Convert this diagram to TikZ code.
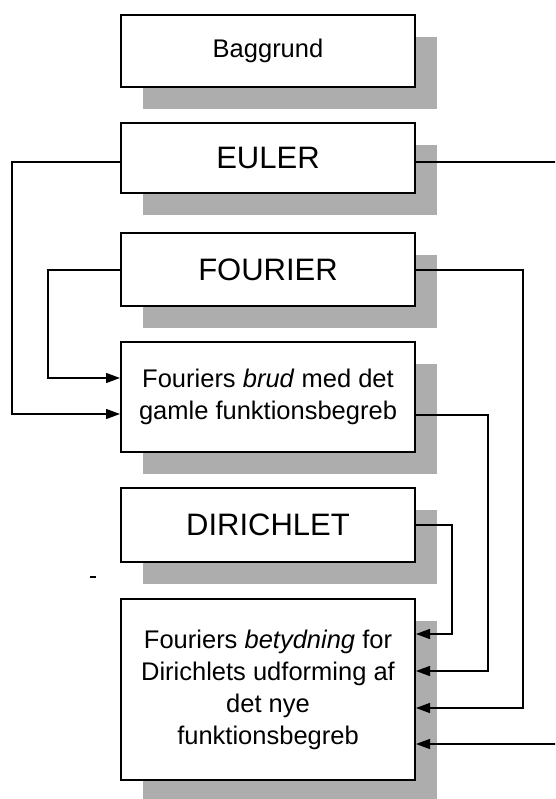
\documentclass[tikz,border=0pt]{standalone}
\usepackage{fontspec}
\setmainfont{Liberation Sans}
\usepackage{tikz}
\usetikzlibrary{arrows.meta,shadows}
\tikzset{
  box/.style={draw, line width=2pt, fill=white, align=center, inner sep=0pt, minimum width=294pt,
    drop shadow={shadow xshift=22pt, shadow yshift=-22pt, fill=black!32, opacity=1}},
  txt/.style={font=\fontsize{25.5}{32}\selectfont},
  ttl/.style={font=\fontsize{31}{36}\selectfont},
  arr/.style={-{Triangle[length=14pt,width=10pt]}, line width=1.3pt},
}

\begin{document}
\begin{tikzpicture}[x=1pt,y=-1pt]
  \clip (0,0) rectangle (555,799);
  \node[box, txt, minimum height=72pt] (bg) at (268,51) {Baggrund};
  \node[box, ttl, minimum height=70pt] (euler) at (268,158) {EULER};
  \node[box, ttl, minimum height=73pt] (fourier) at (268,269.5) {FOURIER};
  \node[box, txt, minimum height=110pt] (brud) at (268,397) {Fouriers \textit{brud} med det\\gamle funktionsbegreb};
  \node[box, ttl, minimum height=74pt] (dirichlet) at (268,525) {DIRICHLET};
  \node[box, txt, minimum height=181pt] (betyd) at (268,689.5) {Fouriers \textit{betydning} for\\Dirichlets udforming af\\det nye\\funktionsbegreb};
  % left side
  \draw[arr] (euler.west |- 0,162) -| (12,414) -- (brud.west |- 0,414);
  \draw[arr] (fourier.west |- 0,270) -| (48,378) -- (brud.west |- 0,378);
  % right side
  \draw[arr] (dirichlet.east |- 0,525) -| (452,634) -- (betyd.east |- 0,634);
  \draw[arr] (brud.east |- 0,415) -| (488,671) -- (betyd.east |- 0,671);
  \draw[arr] (fourier.east |- 0,270) -| (523,708) -- (betyd.east |- 0,708);
  \draw[arr] (euler.east |- 0,162) -| (575,744) -- (betyd.east |- 0,744);
  \draw[line width=1.5pt] (90,577) -- (96,577);
\end{tikzpicture}
\end{document}
